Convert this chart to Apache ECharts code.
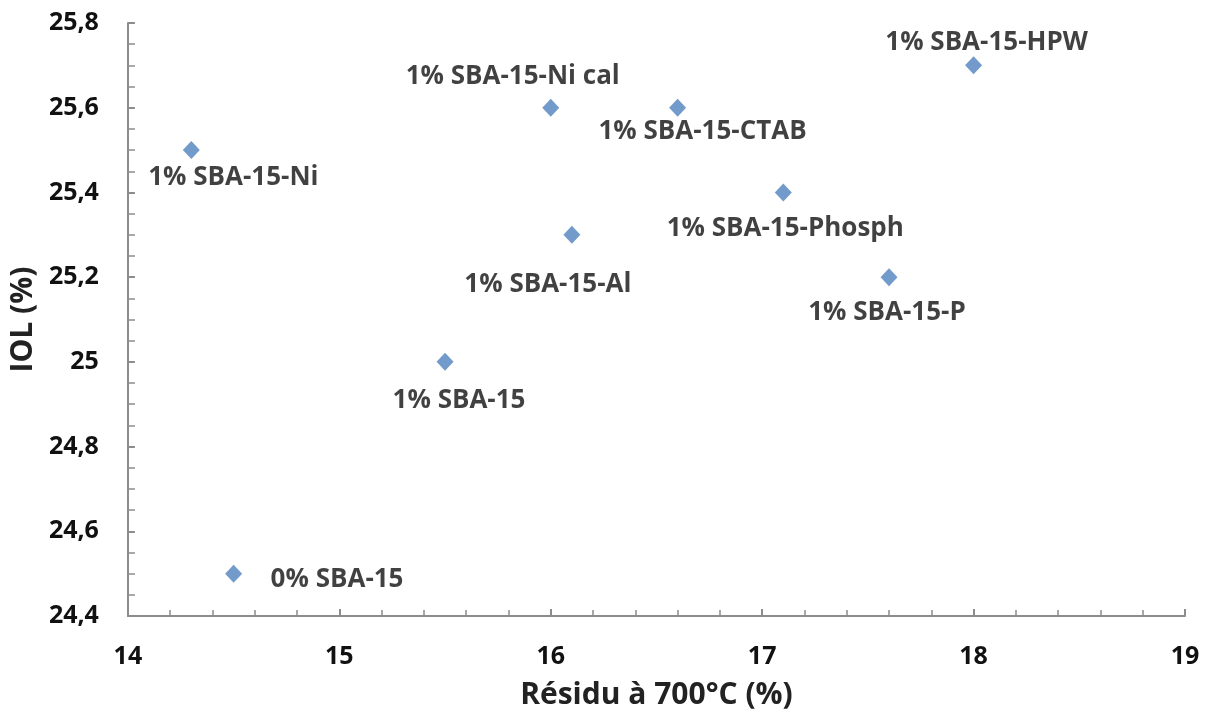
<!DOCTYPE html>
<html><head><meta charset="utf-8">
<script src="https://cdn.jsdelivr.net/npm/echarts@6/dist/echarts.min.js"></script>
<style>html,body{margin:0;padding:0;background:#fff}#c{width:1209px;height:717px}</style>
</head><body><div id="c"></div>
<script>
const names = ['0% SBA-15','1% SBA-15-Ni','1% SBA-15','1% SBA-15-Ni cal','1% SBA-15-Al','1% SBA-15-CTAB','1% SBA-15-Phosph','1% SBA-15-P','1% SBA-15-HPW'];
const residu = [14.5, 14.3, 15.5, 16.0, 16.1, 16.6, 17.1, 17.6, 18.0];
const iol = [24.5, 25.5, 25.0, 25.6, 25.3, 25.6, 25.4, 25.2, 25.7];
const xTicks = [14, 15, 16, 17, 18, 19];
const yTicks = [24.4, 24.6, 24.8, 25.0, 25.2, 25.4, 25.6, 25.8];

// label placement (style, not data): [dx, dy, align]
const labelOffsets = [[37,6,'left'],[42,28,'center'],[14,39,'center'],[-38,-31,'center'],[-24,50,'center'],[25,24,'center'],[2,36,'center'],[-2,35,'center'],[13,-23,'center']];

const fontFam = '"Open Sans", "Liberation Sans", sans-serif';
const chart = echarts.init(document.getElementById('c'));
const data = residu.map((x, i) => {
  const o = labelOffsets[i];
  return {
    value: [x, iol[i]],
    name: names[i],
    label: { show: true, position: 'inside', offset: [o[0], o[1]], align: o[2], verticalAlign: 'middle', formatter: names[i] }
  };
});
const fmt = v => String(+v.toFixed(1)).replace('.', ',');
chart.setOption({
  animation: false,
  grid: { left: 126, right: 24, top: 23, bottom: 101 },
  xAxis: {
    type: 'value', min: xTicks[0], max: xTicks[xTicks.length-1], interval: 1,
    name: 'Résidu à 700°C (%)', nameLocation: 'middle', nameGap: 64,
    nameTextStyle: { fontFamily: fontFam, fontWeight: 'bold', fontSize: 30, color: '#222' },
    axisLine: { show: true, lineStyle: { color: '#8c8c8c', width: 2 } },
    axisTick: { show: true, inside: true, length: 7, lineStyle: { color: '#8c8c8c', width: 2 } },
    minorTick: { show: true, splitNumber: 5, length: 6, lineStyle: { color: '#8c8c8c', width: 1.5 } },
    splitLine: { show: false },
    axisLabel: { margin: 28, fontFamily: fontFam, fontWeight: 'bold', fontSize: 25, color: '#111', formatter: fmt }
  },
  yAxis: {
    type: 'value', min: yTicks[0], max: yTicks[yTicks.length-1], interval: 0.2,
    name: 'IOL (%)', nameLocation: 'middle', nameGap: 86, nameRotate: 90,
    nameTextStyle: { fontFamily: fontFam, fontWeight: 'bold', fontSize: 30, color: '#222' },
    axisLine: { show: true, lineStyle: { color: '#8c8c8c', width: 2 } },
    axisTick: { show: true, inside: true, length: 7, lineStyle: { color: '#8c8c8c', width: 2 } },
    minorTick: { show: true, splitNumber: 4, length: 7, lineStyle: { color: '#8c8c8c', width: 1.5 } },
    splitLine: { show: false },
    axisLabel: { margin: 29, fontFamily: fontFam, fontWeight: 'bold', fontSize: 25, color: '#111', formatter: fmt }
  },
  series: [{
    type: 'scatter', symbol: 'diamond', symbolSize: [17, 18],
    itemStyle: { color: '#4f81bd' },
    label: { fontFamily: fontFam, fontWeight: 'bold', fontSize: 26, color: '#111' },
    data: data
  }]
});
</script></body></html>
